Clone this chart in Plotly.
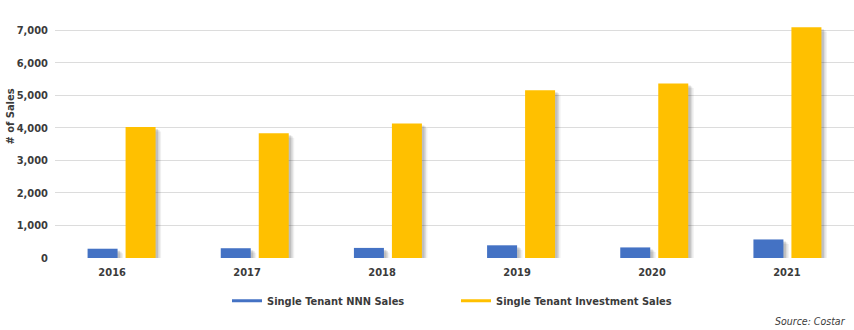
import plotly.graph_objects as go

# Annual counts of single-tenant sales
years = ["2016", "2017", "2018", "2019", "2020", "2021"]
nnn_sales = [285, 300, 310, 390, 325, 570]
investment_sales = [4025, 3830, 4130, 5150, 5360, 7090]
y_ticks = [0, 1000, 2000, 3000, 4000, 5000, 6000, 7000]

BLUE = "#4472C4"
GOLD = "#FFC000"
TEXT = "#3b3b3b"
FONT = "DejaVu Sans Condensed, Liberation Sans Narrow, Roboto, sans-serif"

W, H = 854, 330
M_L, M_R, M_T, M_B = 55, 0, 22, 72
Y_MAX = 7250

xs = list(range(len(years)))
px_x = (W - M_L - M_R) / len(years)        # pixels per category unit
px_y = (H - M_T - M_B) / Y_MAX             # pixels per sales unit

BAR_W = 30 / px_x
series = [
    ("Single Tenant NNN Sales", nnn_sales, BLUE, -34 / px_x),
    ("Single Tenant Investment Sales", investment_sales, GOLD, 4 / px_x),
]


def font(size=11, bold=True):
    return dict(family=FONT, size=size, color=TEXT,
                weight="bold" if bold else "normal")


fig = go.Figure()

# soft drop shadow under each bar (several translucent layers)
shadow_layers = [(5.5, 4.5, 0.06), (4.0, 3.0, 0.09), (2.5, 2.0, 0.12)]
for _, vals, _, off in series:
    for dx, dy, a in shadow_layers:
        fig.add_trace(go.Bar(
            x=xs, y=[max(v - dy / px_y, 0) for v in vals],
            width=BAR_W, offset=off + dx / px_x,
            marker=dict(color=f"rgba(0,0,0,{a})", line=dict(width=0)),
            showlegend=False, hoverinfo="skip",
        ))

for name, vals, color, off in series:
    fig.add_trace(go.Bar(
        x=xs, y=vals, name=name, width=BAR_W, offset=off,
        marker=dict(color=color, line=dict(width=0)),
        showlegend=False,
    ))
    # legend entry drawn as a short line
    fig.add_trace(go.Scatter(
        x=[None], y=[None], mode="lines", name=name,
        line=dict(color=color, width=3),
    ))

# year labels sit slightly left of the group centres
tick_pos = [i * 1.0135 - 0.071 for i in xs]

fig.update_layout(
    width=W, height=H,
    margin=dict(l=M_L, r=M_R, t=M_T, b=M_B),
    paper_bgcolor="white", plot_bgcolor="white",
    barmode="overlay",
    font=font(),
    xaxis=dict(
        range=[-0.5, len(years) - 0.5],
        tickvals=tick_pos, ticktext=years,
        showgrid=False, zeroline=False, showline=False, ticks="",
        tickfont=font(),
        ticklabelstandoff=6,
    ),
    yaxis=dict(
        range=[0, Y_MAX], tickvals=y_ticks,
        tickformat=",d",
        showgrid=True, gridcolor="#dcdcdc", gridwidth=1,
        zeroline=False, showline=False, ticks="",
        tickfont=font(),
        ticklabelstandoff=6,
    ),
    legend=dict(
        orientation="h", x=(227 - M_L) / (W - M_L), xanchor="left",
        y=-0.12, yanchor="top",
        font=font(),
        entrywidth=184, entrywidthmode="pixels",
        itemwidth=30,
    ),
    annotations=[
        dict(
            text="# of Sales", textangle=-90,
            xref="paper", yref="paper", x=-54 / (W - M_L), xanchor="left",
            y=1 - (117 - M_T) / (H - M_T - M_B), yanchor="middle",
            showarrow=False, font=font(),
        ),
        dict(
            text="<i>Source: Costar</i>",
            xref="paper", yref="paper",
            x=(848 - M_L) / (W - M_L), xanchor="right",
            y=-(321 - (H - M_B)) / (H - M_T - M_B), yanchor="middle",
            showarrow=False, font=font(10.5, bold=False),
        ),
    ],
)

fig.write_html("out.html")
